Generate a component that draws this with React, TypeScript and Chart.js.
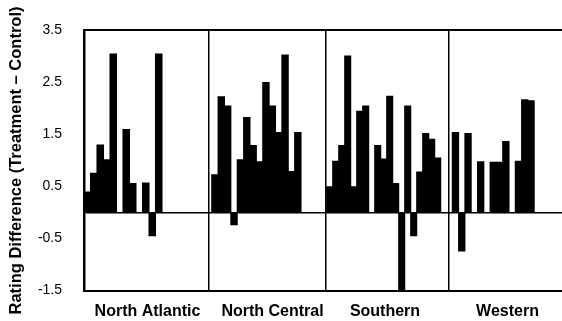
import React, { useEffect, useRef } from "react";
import { Chart, registerables } from "chart.js";

Chart.register(...registerables);

// ---- data ----
const REGIONS = ["North Atlantic", "North Central", "Southern", "Western"];
const NORTH_ATLANTIC = [0.4, 0.76, 1.3, 1.02, 3.05, 0, 1.6, 0.56, 0, 0.57, -0.45, 3.05];
const NORTH_CENTRAL = [0.73, 2.23, 2.05, -0.24, 1.02, 1.83, 1.29, 0.98, 2.5, 2.05, 1.54, 3.03, 0.79, 1.54];
const SOUTHERN = [0.5, 0.99, 1.29, 3.01, 0.5, 1.95, 2.05, 0, 1.29, 1.03, 2.24, 0.56, -1.6, 2.05, -0.45, 0.78, 1.52, 1.41, 1.05];
const WESTERN = [1.54, -0.74, 1.52, 0, 0.98, 0, 0.97, 0.97, 1.37, 0, 0.99, 2.17, 2.15];
const Y_TICKS = [-1.5, -0.5, 0.5, 1.5, 2.5, 3.5];
const Y_TITLE = "Rating Difference (Treatment – Control)";

// ---- layout (x axis units along the plot) ----
const PLOT_WIDTH = 478;
const PANEL_START = [0, 127.7, 242.7, 368.3];
const PANEL_STEP = [6.5, 6.38, 6.0, 6.3];
const SEPARATORS = [124.3, 242, 364.7];
const LABEL_CENTERS = [63.5, 188.5, 301, 423.5];

Chart.defaults.font.family = "'Liberation Sans', Arial, Helvetica, sans-serif";

type XTick = { value: number; kind: "sep" | "label"; idx: number };
const X_TICKS: XTick[] = [
  ...SEPARATORS.map((v, i) => ({ value: v, kind: "sep" as const, idx: i })),
  ...LABEL_CENTERS.map((v, i) => ({ value: v, kind: "label" as const, idx: i })),
].sort((a, b) => a.value - b.value);

export default function App() {
  const ref = useRef<HTMLCanvasElement>(null);

  useEffect(() => {
    const series = [NORTH_ATLANTIC, NORTH_CENTRAL, SOUTHERN, WESTERN];
    const datasets = series.map((vals, r) => ({
      label: REGIONS[r],
      data: vals.map((v, i) => ({ x: PANEL_START[r] + (i + 0.5) * PANEL_STEP[r], y: v })),
      backgroundColor: "#000",
      borderWidth: 0,
      barThickness: PANEL_STEP[r] + 0.4,
      grouped: false,
      xAxisID: "x",
      yAxisID: "y",
    }));

    const chart = new Chart(ref.current as HTMLCanvasElement, {
      type: "bar",
      data: { datasets } as any,
      options: {
        animation: false,
        responsive: false,
        maintainAspectRatio: false,
        layout: { padding: { top: 29, left: 0, right: 0, bottom: 0 } },
        plugins: { legend: { display: false }, tooltip: { enabled: false } },
        scales: {
          x: {
            type: "linear",
            position: "bottom",
            min: 0,
            max: PLOT_WIDTH,
            offset: false,
            grid: {
              display: true,
              offset: false,
              drawTicks: false,
              lineWidth: 1.5,
              color: (c: any) => {
                const t = X_TICKS[c.index];
                return t && t.kind === "sep" ? "#000" : "rgba(0,0,0,0)";
              },
            },
            border: { display: true, color: "#000", width: 2 },
            ticks: {
              autoSkip: false,
              maxRotation: 0,
              minRotation: 0,
              padding: 11,
              color: "#000",
              font: { size: 16, weight: "bold" },
              callback: (_v: any, i: number) => {
                const t = X_TICKS[i];
                return t && t.kind === "label" ? REGIONS[t.idx] : "";
              },
            },
            afterBuildTicks: (s: any) => {
              s.ticks = X_TICKS.map((t) => ({ value: t.value }));
            },
            afterFit: (s: any) => {
              s.height = 27.5;
            },
          },
          x2: {
            type: "linear",
            position: "top",
            min: 0,
            max: PLOT_WIDTH,
            offset: false,
            grid: { display: false, offset: false, drawTicks: false },
            border: { display: true, color: "#000", width: 2 },
            ticks: { display: false },
            afterFit: (s: any) => {
              s.height = 0;
            },
          },
          y: {
            type: "linear",
            min: -1.5,
            max: 3.5,
            grid: {
              drawTicks: false,
              color: (c: any) => (c.tick && c.tick.value === 0 ? "#000" : "rgba(0,0,0,0)"),
              lineWidth: 1.5,
            },
            border: { display: true, color: "#000", width: 2.5 },
            ticks: {
              autoSkip: false,
              padding: 22,
              color: "#000",
              font: { size: 14 },
              callback: (v: any) => (Number(v) === 0 ? "" : Number(v).toFixed(1)),
            },
            afterBuildTicks: (s: any) => {
              s.ticks = [...Y_TICKS, 0].sort((a, b) => a - b).map((v) => ({ value: v }));
            },
            afterFit: (s: any) => {
              s.width = 84;
            },
            title: {
              display: true,
              text: Y_TITLE,
              color: "#000",
              font: { size: 16.5, weight: "bold" },
              padding: { top: 7, bottom: 0 },
            },
          },
        },
      } as any,
    });
    return () => chart.destroy();
  }, []);

  return (
    <div style={{ position: "fixed", left: 0, top: 0, width: 562, height: 321, background: "#fff" }}>
      <canvas ref={ref} width={562} height={321} style={{ width: 562, height: 321, display: "block" }} />
    </div>
  );
}
